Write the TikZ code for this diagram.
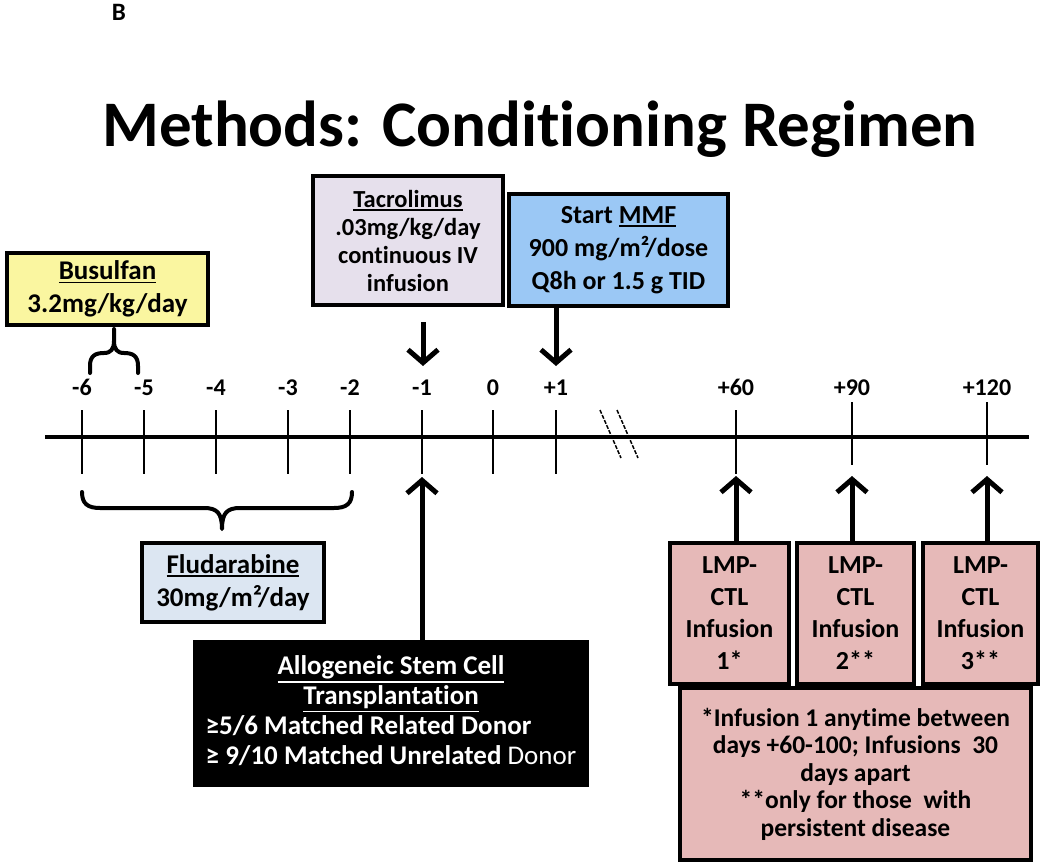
\documentclass[tikz,border=0pt]{standalone}
\usepackage{fontspec}
\setmainfont{Carlito}[Ligatures={NoCommon,NoContextual}]
\newcommand{\myul}[1]{\leavevmode\vtop{\hbox{#1}\kern 2pt\hrule height 1.6pt}}
\usetikzlibrary{arrows.meta}
\definecolor{busc}{RGB}{250,246,160}
\definecolor{tacc}{RGB}{230,224,236}
\definecolor{mmfc}{RGB}{155,200,245}
\definecolor{fluc}{RGB}{220,230,242}
\definecolor{lmpc}{RGB}{230,185,184}
\begin{document}
\begin{tikzpicture}[x=1pt,y=-1pt,
  box/.style={draw=black, line width=3.5pt, align=center, inner sep=0pt, text=black},
  lbl/.style={font=\fontsize{24}{28}\selectfont\bfseries, anchor=base},
  tickline/.style={line width=2pt},
  arr/.style={line width=5pt, -{Straight Barb[length=13pt,width=30pt]}},
  brc/.style={line width=4pt, line cap=round, line join=round}]
\useasboundingbox (0,0) rectangle (1050,867);
\fill[white] (0,0) rectangle (1050,867);

\node[font=\fontsize{25}{28}\selectfont\bfseries, anchor=base] (B) at (119,21) {B};
\node[font=\fontsize{65}{70}\selectfont\bfseries, anchor=base] (title) at (540,146) {Methods: Conditioning Regimen};

% timeline
\coordinate (tlL) at (45,437);
\coordinate (tlR) at (1029,437);
\draw[line width=3.5pt] (tlL) -- (tlR);
\foreach \n/\x/\t in {m6/82/-6, m5/144/-5, m4/216/-4, m3/288/-3, m2/350/-2, m1/422/-1, z0/493/0, p1/556/+1, p60/736/+60}{
  \coordinate (\n) at (\x,437);
  \draw[tickline] (\x,410) -- (\x,474);
  \node[lbl] (l\n) at (\x,395) {\t};
}
\foreach \n/\x/\t in {p90/852/+90, p120/987/+120}{
  \coordinate (\n) at (\x,437);
  \draw[tickline] (\x,402) -- (\x,465);
  \node[lbl] (l\n) at (\x,395) {\t};
}
% break marks
\draw[line width=1.5pt, dash pattern=on 4pt off 1.5pt] (600,410) -- (621,458);
\draw[line width=1.5pt, dash pattern=on 4pt off 1.5pt] (617,410) -- (638,458);

% Busulfan
\node[box, fill=busc, minimum width=201pt, minimum height=72pt, font=\fontsize{27}{33}\selectfont\bfseries] (bus) at (107.5,289) {\myul{Busulfan}\\3.2mg/kg/day};
\draw[brc] (90,373) -- (90,366) .. controls (90,356) and (95,353) .. (104,353)
  .. controls (111,353) and (114,349) .. (114,341) -- (114,329)
  (114,341) .. controls (114,349) and (117,353) .. (124,353)
  .. controls (133,353) and (138,356) .. (138,366) -- (138,373);

% Tacrolimus
\node[box, fill=tacc, minimum width=190pt, minimum height=129pt, font=\fontsize{24.5}{28}\selectfont\bfseries] (tac) at (408,240.5) {\myul{Tacrolimus}\\.03mg/kg/day\\continuous IV\\infusion};
\coordinate (tacA) at (423,322);
\coordinate (tacB) at (423,366);
\draw[arr] (tacA) -- (tacB);

% MMF
\node[box, fill=mmfc, minimum width=219pt, minimum height=112pt, font=\fontsize{26}{33}\selectfont\bfseries] (mmf) at (618.5,250) {Start \myul{MMF}\\900 mg/m²/dose\\Q8h or 1.5 g TID};
\coordinate (p1top) at (556,366);
\draw[arr] (mmf.south -| p1top) -- (p1top);

% Fludarabine brace and box
\draw[brc] (82,492) .. controls (82,504) and (88,508) .. (100,508) -- (204,508)
  .. controls (217,508) and (222,513) .. (222,529)
  .. controls (222,513) and (227,508) .. (240,508) -- (334,508)
  .. controls (346,508) and (352,504) .. (352,492);
\node[box, fill=fluc, minimum width=182pt, minimum height=79pt, font=\fontsize{27}{33}\selectfont\bfseries] (flu) at (233,582.5) {\myul{Fludarabine}\\30mg/m²/day};

% Allogeneic
\node[draw=black, fill=black, line width=3.5pt, inner sep=0pt, minimum width=392pt, minimum height=143pt, text=white, font=\fontsize{27}{30}\selectfont\bfseries] (allo) at (391,713.5)
 {\begin{tabular}{@{}l@{}}\multicolumn{1}{@{}c@{}}{\myul{Allogeneic Stem Cell}}\\ \multicolumn{1}{@{}c@{}}{\myul{Transplantation}}\\ ≥5/6 Matched Related Donor\\ ≥ 9/10 Matched Unrelated {\mdseries Donor}\end{tabular}};
\coordinate (m1bot) at (422,477);
\draw[arr] (allo.north -| m1bot) -- (m1bot);

% LMP-CTL boxes
\node[box, fill=lmpc, minimum width=119pt, minimum height=141pt, font=\fontsize{26}{32}\selectfont\bfseries] (lmp1) at (729.5,613.5) {LMP-\\CTL\\Infusion\\1*};
\node[box, fill=lmpc, minimum width=117pt, minimum height=141pt, font=\fontsize{26}{32}\selectfont\bfseries] (lmp2) at (855.5,613.5) {LMP-\\CTL\\Infusion\\2**};
\node[box, fill=lmpc, minimum width=115pt, minimum height=141pt, font=\fontsize{26}{32}\selectfont\bfseries] (lmp3) at (980.5,613.5) {LMP-\\CTL\\Infusion\\3**};
\coordinate (p60b) at (736,476);
\coordinate (p90b) at (852,476);
\coordinate (p120b) at (987,476);
\draw[arr] (lmp1.north -| p60b) -- (p60b);
\draw[arr] (lmp2.north -| p90b) -- (p90b);
\draw[arr] (lmp3.north -| p120b) -- (p120b);

% footnote
\node[box, fill=lmpc, minimum width=351pt, minimum height=172pt, font=\fontsize{25.5}{27.5}\selectfont\bfseries] (note) at (855.5,774)
 {*Infusion 1 anytime between\\days +60-100; Infusions\ \ 30\\days apart\\**only for those\ \ with\\persistent disease};
\end{tikzpicture}
\end{document}
